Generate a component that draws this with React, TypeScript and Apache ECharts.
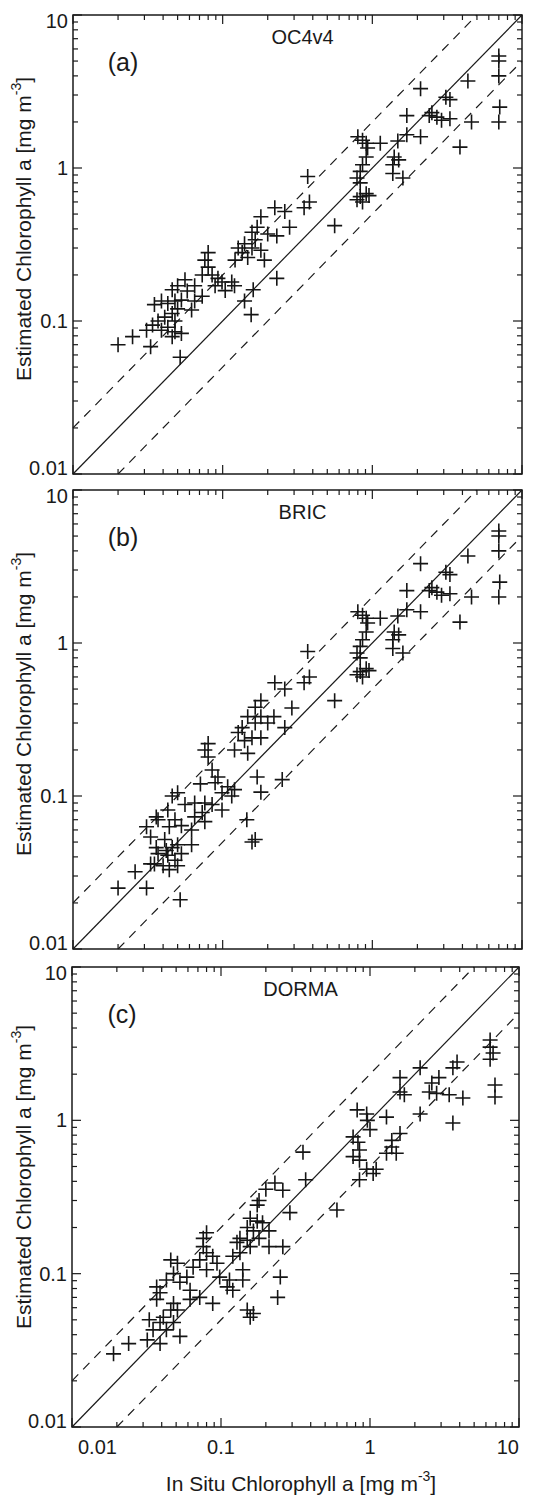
import React, { useEffect, useRef } from "react";
import * as echarts from "echarts";

// ---------- data ----------
const axisMin = 0.01;
const axisMax = 10;
const majorTickValues = [0.01, 0.1, 1, 10];
const minorTickValues = [
  0.02, 0.03, 0.04, 0.05, 0.06, 0.07, 0.08, 0.09,
  0.2, 0.3, 0.4, 0.5, 0.6, 0.7, 0.8, 0.9,
  2, 3, 4, 5, 6, 7, 8, 9,
];
const panelTitles = ["OC4v4", "BRIC", "DORMA"];
const panelLetters = ["(a)", "(b)", "(c)"];
const yAxisTitle = "Estimated Chlorophyll a [mg m{sup|-3}]";
const xAxisTitle = "In Situ Chlorophyll a [mg m{sup|-3}]";

const oneToOneLine = [[0.01, 0.01], [10, 10]];
const upperFactorTwoLine = [[0.01, 0.02], [5, 10]];
const lowerFactorTwoLine = [[0.02, 0.01], [10, 5]];

// OC4v4: [in situ, estimated]
const oc4v4Points = [
  [7.0, 5.4], [7.0, 5.0], [7.0, 4.0], [7.1, 2.5], [7.0, 2.0],
  [4.35, 3.7], [2.1, 3.3], [3.85, 1.37], [4.6, 2.0],
  [3.1, 2.9], [3.3, 2.8], [2.5, 2.3], [2.4, 2.2], [2.7, 2.15], [3.3, 2.1], [2.9, 2.05], [2.1, 1.6], [1.7, 1.65], [1.7, 2.2],
  [0.8, 1.6], [0.86, 1.52], [0.91, 1.45], [0.93, 1.35], [1.13, 1.45], [1.48, 1.5], [1.4, 1.18], [1.5, 1.13], [1.37, 1.05],
  [0.86, 1.05], [0.91, 1.18], [0.83, 0.95], [0.79, 0.86], [0.83, 0.8], [1.37, 0.92], [1.6, 0.86],
  [0.79, 0.62], [0.83, 0.65], [0.86, 0.6], [0.91, 0.68], [0.95, 0.66],
  [0.37, 0.88], [0.38, 0.6], [0.35, 0.55], [0.56, 0.42],
  [0.223, 0.55], [0.26, 0.52], [0.28, 0.41], [0.18, 0.48], [0.17, 0.41], [0.157, 0.38], [0.2, 0.37], [0.23, 0.36],
  [0.165, 0.34], [0.14, 0.32], [0.127, 0.3], [0.157, 0.3], [0.18, 0.29], [0.135, 0.28], [0.147, 0.26], [0.19, 0.25],
  [0.121, 0.25], [0.23, 0.19],
  [0.08, 0.28], [0.076, 0.25], [0.08, 0.225], [0.085, 0.2], [0.073, 0.2], [0.093, 0.19], [0.099, 0.18], [0.089, 0.17],
  [0.115, 0.18], [0.12, 0.17], [0.104, 0.158], [0.16, 0.16],
  [0.065, 0.17], [0.056, 0.186], [0.05, 0.17], [0.046, 0.16], [0.058, 0.157], [0.073, 0.145], [0.065, 0.135],
  [0.053, 0.137], [0.048, 0.135], [0.043, 0.13], [0.039, 0.135], [0.035, 0.128], [0.062, 0.118], [0.05, 0.12],
  [0.046, 0.112], [0.041, 0.106], [0.037, 0.1], [0.048, 0.1], [0.034, 0.094], [0.043, 0.091], [0.039, 0.087],
  [0.048, 0.085], [0.031, 0.087], [0.046, 0.079], [0.053, 0.083], [0.025, 0.079], [0.02, 0.07],
  [0.14, 0.135], [0.155, 0.11], [0.033, 0.068], [0.052, 0.058],
];

// BRIC: [in situ, estimated]
const bricPoints = [
  [7.0, 5.4], [7.0, 5.0], [7.0, 4.0], [7.1, 2.5], [7.0, 2.0],
  [4.35, 3.7], [2.1, 3.3], [3.85, 1.37], [4.6, 2.0],
  [3.1, 2.9], [3.3, 2.8], [2.5, 2.3], [2.4, 2.2], [2.7, 2.15], [3.3, 2.1], [2.9, 2.05], [2.1, 1.6], [1.7, 1.65], [1.7, 2.2],
  [0.8, 1.6], [0.86, 1.52], [0.91, 1.45], [0.93, 1.35], [1.13, 1.45], [1.48, 1.5], [1.4, 1.18], [1.5, 1.13], [1.37, 1.05],
  [0.86, 1.05], [0.91, 1.18], [0.83, 0.95], [0.79, 0.86], [0.83, 0.8], [1.37, 0.92], [1.6, 0.86],
  [0.79, 0.62], [0.83, 0.65], [0.86, 0.6], [0.91, 0.68], [0.95, 0.66],
  [0.37, 0.88], [0.38, 0.6], [0.35, 0.55], [0.56, 0.42],
  [0.223, 0.55], [0.26, 0.5], [0.29, 0.376], [0.18, 0.42], [0.165, 0.38], [0.147, 0.33], [0.18, 0.33], [0.22, 0.33],
  [0.135, 0.28], [0.165, 0.3], [0.2, 0.3], [0.127, 0.26], [0.157, 0.24], [0.18, 0.24], [0.14, 0.23], [0.26, 0.28],
  [0.08, 0.22], [0.076, 0.2], [0.08, 0.18], [0.12, 0.2], [0.147, 0.19], [0.17, 0.133], [0.25, 0.128], [0.18, 0.106],
  [0.145, 0.07], [0.165, 0.052], [0.157, 0.05], [0.085, 0.148], [0.093, 0.133], [0.089, 0.122], [0.108, 0.115],
  [0.12, 0.11], [0.115, 0.1], [0.099, 0.105], [0.065, 0.09], [0.076, 0.09], [0.085, 0.088], [0.073, 0.078],
  [0.099, 0.081], [0.05, 0.105], [0.046, 0.1], [0.056, 0.088], [0.043, 0.081], [0.037, 0.07], [0.048, 0.07],
  [0.065, 0.073], [0.076, 0.068], [0.053, 0.064], [0.062, 0.06], [0.041, 0.052], [0.046, 0.046], [0.05, 0.048],
  [0.062, 0.048], [0.037, 0.042], [0.043, 0.041], [0.048, 0.038], [0.053, 0.042], [0.035, 0.036], [0.05, 0.035],
  [0.026, 0.032], [0.02, 0.025], [0.031, 0.025], [0.033, 0.036], [0.04, 0.035], [0.044, 0.033], [0.042, 0.044],
  [0.036, 0.046], [0.033, 0.054], [0.036, 0.073], [0.031, 0.063], [0.044, 0.063], [0.052, 0.021], [0.071, 0.12],
];

// DORMA: [in situ, estimated]
const dormaPoints = [
  [6.4, 3.34], [6.4, 3.0], [6.7, 2.75], [6.4, 2.5], [6.9, 1.7], [6.9, 1.42],
  [3.84, 2.4], [3.6, 2.2], [2.17, 2.2], [2.9, 1.9], [2.6, 1.75], [2.5, 1.53], [2.8, 1.5], [3.4, 1.47], [4.2, 1.4],
  [3.6, 0.96], [2.17, 1.1], [1.59, 1.9], [1.59, 1.53], [1.7, 1.47],
  [0.82, 1.17], [0.95, 1.1], [0.96, 1.0], [1.29, 1.05], [1.0, 0.87], [0.77, 0.78], [0.83, 0.72], [0.85, 0.64],
  [0.77, 0.58], [0.85, 0.55], [1.59, 0.82], [1.4, 0.74], [1.4, 0.67], [1.5, 0.61], [1.29, 0.61],
  [0.95, 0.48], [1.05, 0.45], [0.85, 0.41], [1.1, 0.48], [0.355, 0.62], [0.37, 0.41], [0.6, 0.26], [0.2, 0.355],
  [0.23, 0.39], [0.26, 0.35], [0.29, 0.25], [0.18, 0.3], [0.175, 0.28], [0.157, 0.23], [0.175, 0.22], [0.19, 0.215],
  [0.15, 0.2], [0.165, 0.19], [0.21, 0.19], [0.134, 0.17], [0.15, 0.165], [0.18, 0.17], [0.128, 0.16], [0.157, 0.15],
  [0.26, 0.15], [0.21, 0.15], [0.134, 0.137], [0.12, 0.13], [0.14, 0.106],
  [0.08, 0.185], [0.076, 0.17], [0.076, 0.15], [0.08, 0.137], [0.088, 0.13], [0.072, 0.123], [0.065, 0.11],
  [0.08, 0.106], [0.094, 0.117], [0.098, 0.095], [0.114, 0.091], [0.11, 0.082], [0.12, 0.078],
  [0.051, 0.117], [0.046, 0.123], [0.048, 0.1], [0.059, 0.095], [0.053, 0.088], [0.043, 0.091], [0.037, 0.082],
  [0.039, 0.075], [0.037, 0.068], [0.048, 0.064], [0.051, 0.058], [0.046, 0.058], [0.041, 0.052], [0.033, 0.05],
  [0.039, 0.048], [0.048, 0.048], [0.035, 0.043], [0.043, 0.043], [0.053, 0.039], [0.032, 0.037], [0.024, 0.035],
  [0.039, 0.035], [0.019, 0.03],
  [0.062, 0.078], [0.062, 0.068], [0.088, 0.064], [0.072, 0.07], [0.14, 0.091], [0.15, 0.058], [0.157, 0.052],
  [0.165, 0.055], [0.24, 0.07], [0.25, 0.095],
];

const panelPoints = [oc4v4Points, bricPoints, dormaPoints];

// ---------- layout / style ----------
const FONT = "'Liberation Sans', Arial, Helvetica, sans-serif";
const INK = "#1a1a1a";
const TICK_FONT = 20;
const TITLE_FONT = 21;
const panels = [
  { left: 73, top: 15, width: 449, height: 459, yTitleY: 229 },
  { left: 73, top: 490, width: 449, height: 459, yTitleY: 704 },
  { left: 72, top: 967, width: 447, height: 460, yTitleY: 1177 },
];

const labelFormatter = (v: number) => String(Number(Number(v).toPrecision(2)));

function buildOption() {
  const grid: any[] = [];
  const xAxis: any[] = [];
  const yAxis: any[] = [];
  const series: any[] = [];
  const graphic: any[] = [];

  const tickData = [
    ...majorTickValues.map((v) => [v, v, 1]),
    ...minorTickValues.map((v) => [v, v, 0]),
  ];

  const labelRich = (size: number) => ({
    first: { fontFamily: FONT, fontSize: size, color: INK, padding: [0, 0, 0, 6] },
    lo: { fontFamily: FONT, fontSize: size, color: INK, padding: [0, 0, 12, 0] },
    hi: { fontFamily: FONT, fontSize: size, color: INK, padding: [11, 0, 0, 0] },
  });

  panels.forEach((p, i) => {
    grid.push({
      left: p.left,
      top: p.top,
      width: p.width,
      height: p.height,
      show: true,
      borderColor: INK,
      borderWidth: 1.5,
      backgroundColor: "transparent",
      containLabel: false,
    });
    xAxis.push({
      type: "log",
      logBase: 10,
      gridIndex: i,
      min: axisMin,
      max: axisMax,
      axisLine: { show: false },
      axisTick: { show: false },
      splitLine: { show: false },
      axisLabel: {
        show: i === 2,
        fontFamily: FONT,
        fontSize: TICK_FONT,
        color: INK,
        margin: 10,
        showMinLabel: true,
        showMaxLabel: true,
        alignMinLabel: "left",
        alignMaxLabel: "right",
        formatter: (v: number) => {
          const s = labelFormatter(v);
          return s === "0.01" ? "{first|0.01}" : s;
        },
        rich: labelRich(TICK_FONT),
      },
    });
    yAxis.push({
      type: "log",
      logBase: 10,
      gridIndex: i,
      min: axisMin,
      max: axisMax,
      axisLine: { show: false },
      axisTick: { show: false },
      splitLine: { show: false },
      axisLabel: {
        show: true,
        fontFamily: FONT,
        fontSize: TICK_FONT,
        color: INK,
        margin: 5,
        showMinLabel: true,
        showMaxLabel: true,
        formatter: (v: number) => {
          const s = labelFormatter(v);
          if (s === "0.01") return "{lo|0.01}";
          if (s === "10") return "{hi|10}";
          return s;
        },
        rich: labelRich(TICK_FONT),
      },
    });

    // reference lines
    const lineDefs = [
      { data: oneToOneLine, type: "solid" as any },
      { data: upperFactorTwoLine, type: [9, 7] as any },
      { data: lowerFactorTwoLine, type: [9, 7] as any },
    ];
    lineDefs.forEach((ld) => {
      series.push({
        type: "line",
        xAxisIndex: i,
        yAxisIndex: i,
        data: ld.data,
        showSymbol: false,
        symbol: "none",
        silent: true,
        clip: true,
        lineStyle: { color: INK, width: 1.2, type: ld.type },
        z: 2,
      });
    });

    // scatter crosses
    series.push({
      type: "scatter",
      xAxisIndex: i,
      yAxisIndex: i,
      data: panelPoints[i],
      symbol: "path://M10,0 L10,20 M0,10 L20,10",
      symbolSize: 15,
      silent: true,
      itemStyle: { color: "rgba(0,0,0,0)", borderColor: "#151515", borderWidth: 1.6, opacity: 1 },
      z: 3,
    });

    // ticks on all four sides (inside)
    series.push({
      type: "custom",
      xAxisIndex: i,
      yAxisIndex: i,
      silent: true,
      clip: false,
      data: tickData,
      encode: { x: 0, y: 1 },
      z: 4,
      renderItem: (params: any, api: any) => {
        const v = api.value(0);
        const major = api.value(2) === 1;
        const len = major ? 9 : 5;
        const b = api.coord([v, axisMin]);
        const t = api.coord([v, axisMax]);
        const l = api.coord([axisMin, v]);
        const r = api.coord([axisMax, v]);
        const style = { stroke: INK, lineWidth: 1.2 };
        return {
          type: "group",
          children: [
            { type: "line", shape: { x1: b[0], y1: b[1], x2: b[0], y2: b[1] - len }, style },
            { type: "line", shape: { x1: t[0], y1: t[1], x2: t[0], y2: t[1] + len }, style },
            { type: "line", shape: { x1: l[0], y1: l[1], x2: l[0] + len, y2: l[1] }, style },
            { type: "line", shape: { x1: r[0], y1: r[1], x2: r[0] - len, y2: r[1] }, style },
          ],
        };
      },
    });

    // panel title & letter
    graphic.push({
      type: "text",
      x: p.left + p.width / 2 + 5,
      y: p.top + 22,
      silent: true,
      style: {
        text: panelTitles[i],
        fill: INK,
        font: `20px ${FONT}`,
        align: "center",
        verticalAlign: "middle",
      },
    });
    graphic.push({
      type: "text",
      x: p.left + 50,
      y: p.top + 47,
      silent: true,
      style: {
        text: panelLetters[i],
        fill: INK,
        font: `25px ${FONT}`,
        align: "center",
        verticalAlign: "middle",
      },
    });
    // y axis title
    graphic.push({
      type: "text",
      x: 23,
      y: p.yTitleY,
      rotation: Math.PI / 2,
      silent: true,
      style: {
        text: yAxisTitle,
        fill: INK,
        font: `${TITLE_FONT}px ${FONT}`,
        align: "center",
        verticalAlign: "middle",
        rich: {
          sup: { fontFamily: FONT, fontSize: 14, fill: INK, padding: [0, 0, 15, 0] },
        },
      },
    });
  });

  graphic.push({
    type: "text",
    x: 301,
    y: 1483,
    silent: true,
    style: {
      text: xAxisTitle,
      fill: INK,
      font: `${TITLE_FONT}px ${FONT}`,
      align: "center",
      verticalAlign: "middle",
      rich: {
        sup: { fontFamily: FONT, fontSize: 14, fill: INK, padding: [0, 0, 15, 0] },
      },
    },
  });

  return {
    animation: false,
    backgroundColor: "#ffffff",
    textStyle: { fontFamily: FONT },
    grid,
    xAxis,
    yAxis,
    series,
    graphic,
  };
}

export default function App() {
  const ref = useRef<HTMLDivElement>(null);
  useEffect(() => {
    if (!ref.current) return;
    const chart = echarts.init(ref.current, undefined, { renderer: "svg" });
    chart.setOption(buildOption() as any);
    return () => chart.dispose();
  }, []);
  return (
    <div
      ref={ref}
      style={{ position: "absolute", left: 0, top: 0, width: 537, height: 1495, background: "#fff" }}
    />
  );
}
